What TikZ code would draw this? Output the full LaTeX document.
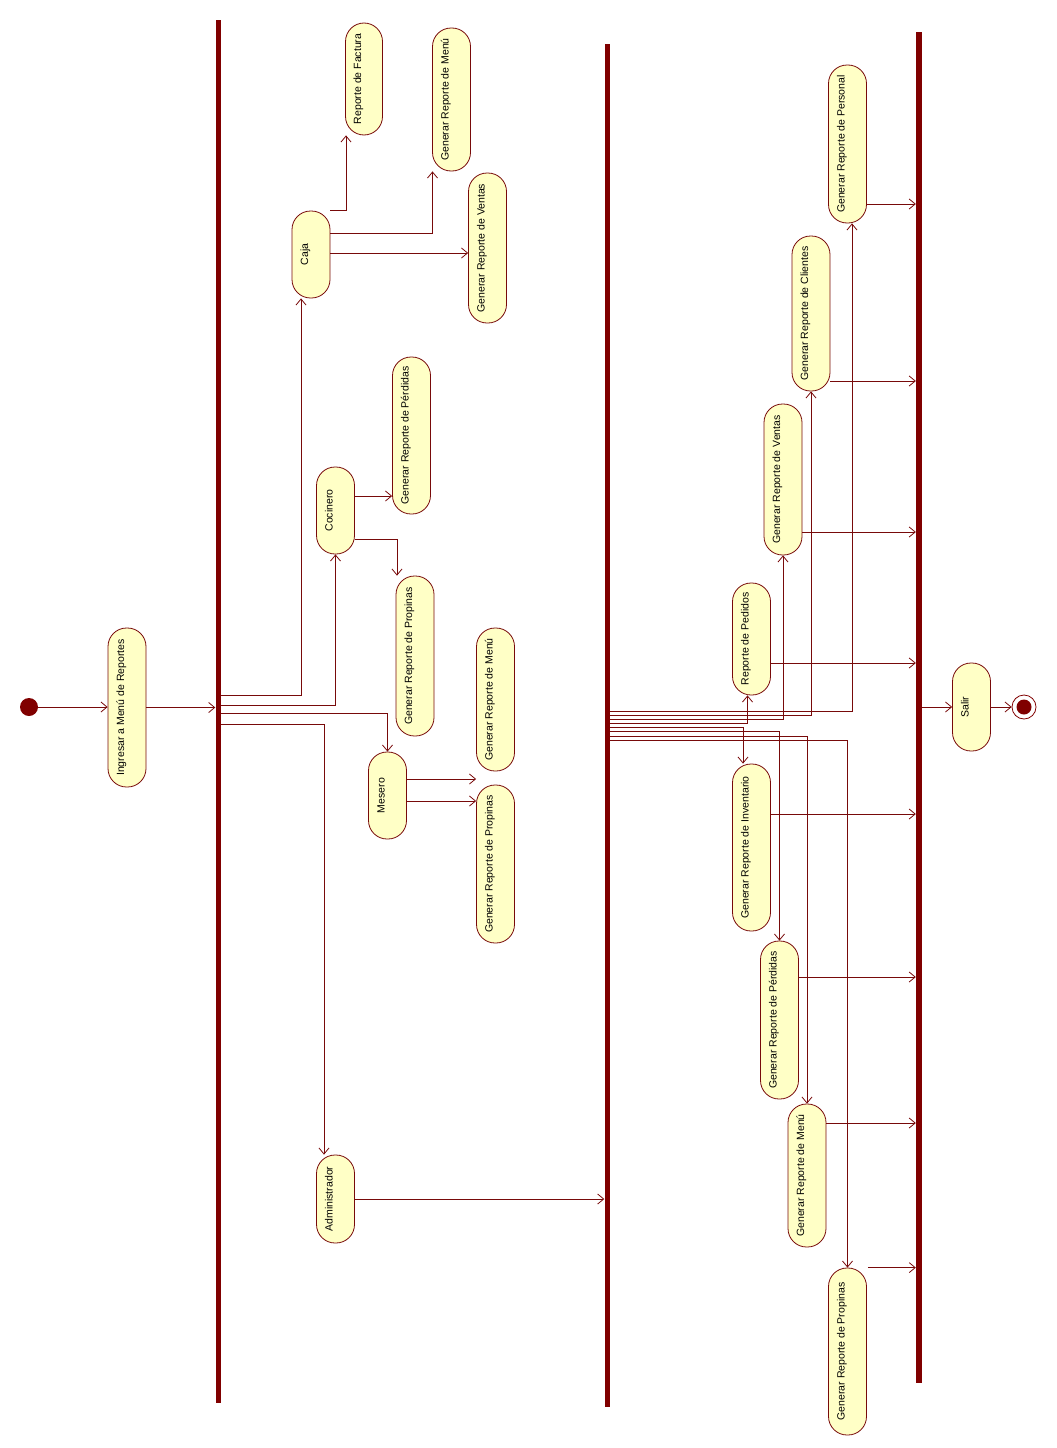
\documentclass[tikz,border=0pt]{standalone}
\usepackage{fontspec}
\setmainfont{Liberation Sans}
\usetikzlibrary{arrows.meta}
\definecolor{barC}{RGB}{128,0,0}
\definecolor{lineC}{RGB}{120,10,10}
\definecolor{fillC}{RGB}{255,255,198}
\tikzset{
  act/.style={draw=lineC, fill=fillC, rounded corners=18.5pt, minimum width=38pt,
    inner sep=0pt, line width=0.8pt, font=\fontsize{10.5}{12}\selectfont},
  barnode/.style={fill=barC, inner sep=0pt, minimum width=5pt},
  arr/.style={draw=lineC, line width=0.8pt, -{Straight Barb[length=6pt,width=10pt]}},
  con/.style={draw=lineC, line width=0.8pt}
}
\newcommand{\vt}[1]{\rotatebox{90}{\rule[-14pt]{0pt}{22pt}#1}}
\begin{document}
\begin{tikzpicture}[x=1pt,y=-1pt]
\useasboundingbox (0,0) rectangle (1057,1448);
% initial and final
\node[circle, fill=barC, minimum size=18pt, inner sep=0pt] (start) at (29,707) {};
\node[circle, draw=barC, fill=white, line width=0.8pt, minimum size=24pt, inner sep=0pt] (fin) at (1024,707) {};
\fill[barC] (fin.center) circle (7.5pt);
% bars
\node[barnode, minimum height=1383pt] (bar1) at (218,711.5) {};
\node[barnode, minimum height=1363pt] (bar2) at (607,725.5) {};
\node[barnode, minimum width=6pt, minimum height=1351pt] (bar3) at (919,707.5) {};
% activities
\node[act, minimum height=159pt] (ing) at (127,707.5) {\vt{Ingresar a Menú de Reportes}};
\node[act, minimum height=87pt] (caja) at (311,254.5) {\vt{Caja}};
\node[act, minimum width=37pt, minimum height=112pt] (fac) at (364,79) {\vt{Reporte de Factura}};
\node[act, minimum height=143pt] (men1) at (451.5,99.5) {\vt{Generar Reporte de Menú}};
\node[act, minimum height=150pt] (ven1) at (487.5,248) {\vt{Generar Reporte de Ventas}};
\node[act, minimum height=87pt] (coc) at (335.5,510.5) {\vt{Cocinero}};
\node[act, minimum height=157pt] (per1) at (411.5,435.5) {\vt{Generar Reporte de Pérdidas}};
\node[act, minimum height=160pt] (pro1) at (415,656) {\vt{Generar Reporte de Propinas}};
\node[act, minimum height=87pt] (mes) at (387.5,795.5) {\vt{Mesero}};
\node[act, minimum height=143pt] (men2) at (495.5,699.5) {\vt{Generar Reporte de Menú}};
\node[act, minimum height=158pt] (pro2) at (495.5,864) {\vt{Generar Reporte de Propinas}};
\node[act, minimum height=88pt] (adm) at (335.5,1199) {\vt{Administrador}};
\node[act, minimum height=112pt] (ped) at (751.5,639) {\vt{Reporte de Pedidos}};
\node[act, minimum height=167pt] (inv) at (751.5,847.5) {\vt{Generar Reporte de Inventario}};
\node[act, minimum height=151pt] (ven2) at (783,479.5) {\vt{Generar Reporte de Ventas}};
\node[act, minimum height=155pt] (cli) at (811,313.5) {\vt{Generar Reporte de Clientes}};
\node[act, minimum height=158pt] (pers) at (847.5,144) {\vt{Generar Reporte de Personal}};
\node[act, minimum height=158pt] (per2) at (779.5,1020) {\vt{Generar Reporte de Pérdidas}};
\node[act, minimum height=143pt] (men3) at (807,1175.5) {\vt{Generar Reporte de Menú}};
\node[act, minimum height=167pt] (pro3) at (847.5,1351.5) {\vt{Generar Reporte de Propinas}};
\node[act, minimum height=88pt] (salir) at (971.5,707) {\vt{Salir}};
% connectors
\draw[arr] (start) -- (start -| ing.west);
\draw[arr] (ing.east) -- (ing.east -| bar1.west);
\draw[arr] (bar1.east |- 0,695) -| ([xshift=-10pt]caja.south);
\draw[arr] (bar1.east |- 0,705) -| (coc.south);
\draw[arr] (bar1.east |- 0,713) -| (mes.north);
\draw[arr] (bar1.east |- 0,724) -| ([xshift=-11.5pt]adm.north);
\draw[arr] (caja.north east) -| ([xshift=-18pt]fac.south);
\draw[arr] (caja.east |- 0,233) -| ([xshift=-19pt]men1.south);
\draw[arr] (caja.east |- 0,253) -- (ven1.west |- 0,253);
\draw[arr] (coc.east |- 0,496) -- (per1.west |- 0,496);
\draw[arr] (coc.east |- 0,539) -| ([xshift=-18pt]pro1.north);
\draw[arr] (mes.east |- 0,779) -- (men2.west |- 0,779);
\draw[arr] (mes.east |- 0,801) -- (pro2.west |- 0,801);
\draw[arr] (adm.east) -- (adm.east -| bar2.west);
\draw[arr] (bar2.east |- 0,711) -| ([xshift=4.5pt]pers.south);
\draw[arr] (bar2.east |- 0,715) -| (cli.south);
\draw[arr] (bar2.east |- 0,719) -| (ven2.south);
\draw[arr] (bar2.east |- 0,723) -| ([xshift=-4pt]ped.south);
\draw[arr] (bar2.east |- 0,727) -| ([xshift=-8.5pt]inv.north);
\draw[arr] (bar2.east |- 0,731) -| (per2.north);
\draw[arr] (bar2.east |- 0,736) -| (men3.north);
\draw[arr] (bar2.east |- 0,740) -| (pro3.north);
\draw[arr] (pers.east |- 0,204) -- (bar3.west |- 0,204);
\draw[arr] (cli.east |- 0,381) -- (bar3.west |- 0,381);
\draw[arr] (ven2.east |- 0,532) -- (bar3.west |- 0,532);
\draw[arr] (ped.east |- 0,663) -- (bar3.west |- 0,663);
\draw[arr] (inv.east |- 0,814) -- (bar3.west |- 0,814);
\draw[arr] (per2.east |- 0,977) -- (bar3.west |- 0,977);
\draw[arr] (men3.east |- 0,1123) -- (bar3.west |- 0,1123);
\draw[arr] ([xshift=1pt]pro3.north east) -- (bar3.west |- pro3.north);
\draw[arr] (bar3.east |- salir) -- (salir.west);
\draw[arr] (salir.east) -- (fin);
\end{tikzpicture}
\end{document}
